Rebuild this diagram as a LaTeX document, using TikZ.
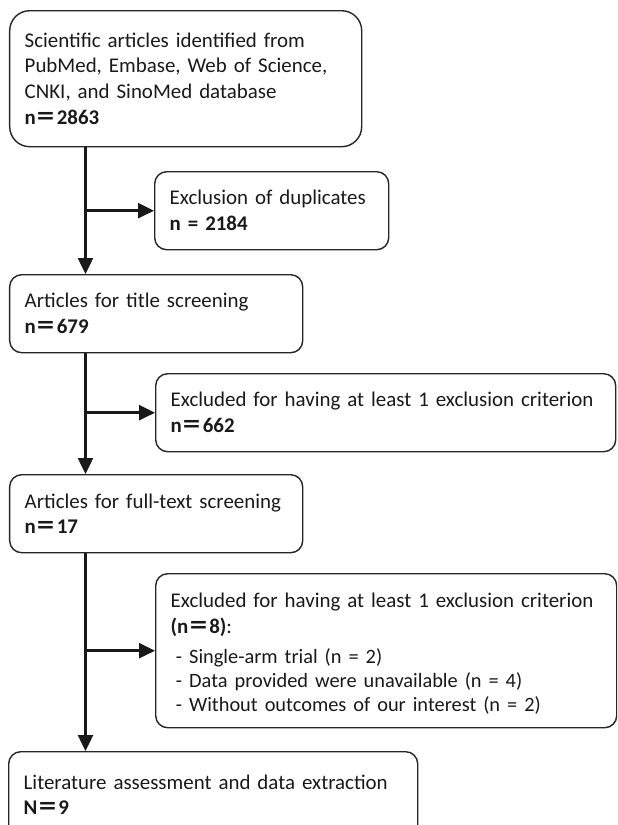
\documentclass[tikz,border=0pt]{standalone}
\usepackage{fontspec}
\setmainfont{Carlito}
\newfontfamily\cjk{Noto Sans CJK SC}
\usetikzlibrary{positioning, arrows.meta}
\newcommand{\feq}{{\cjk ＝}}

\begin{document}
\begin{tikzpicture}[
  font=\fontsize{11.9pt}{14.7pt}\selectfont,
  box/.style={draw=black!85, line width=0.8pt, rounded corners=0.24cm, anchor=north west,
    align=left, inner xsep=0.3cm, inner ysep=2pt, text=black!90},
  flow/.style={-{Triangle[length=0.32cm, width=0.3cm]}, line width=1.4pt, draw=black!90}
]
\path[use as bounding box] (0,0) rectangle (12.34,-16.5);
\clip (0,0) rectangle (12.34,-16.5);

% stages down the left side
\node[box, rounded corners=0.4cm, minimum width=7.04cm, minimum height=2.72cm, text width=6.44cm]
  (search) at (0.18,-0.20) {Scientific articles identified from\\PubMed, Embase, Web of Science,\\CNKI, and SinoMed database\\\textbf{n\feq 2863}};
\node[box, minimum width=5.86cm, minimum height=1.56cm, text width=5.26cm]
  (title) at (0.18,-5.48) {Articles for title screening\\\textbf{n\feq 679}};
\node[box, minimum width=5.86cm, minimum height=1.56cm, text width=5.26cm]
  (full) at (0.18,-9.48) {Articles for full-text screening\\\textbf{n\feq 17}};
\node[box, minimum width=8.18cm, minimum height=1.72cm, text width=7.58cm]
  (final) at (0.16,-15.02) {Literature assessment and data extraction\\\textbf{N\feq 9}};

% exclusions on the right
\node[box, minimum width=4.68cm, minimum height=1.56cm, text width=4.08cm]
  (dup) at (3.08,-3.42) {Exclusion of duplicates\\\textbf{n = 2184}};
\node[box, minimum width=9.20cm, minimum height=1.56cm, text width=8.60cm]
  (excl1) at (3.10,-7.46) {Excluded for having at least 1 exclusion criterion\\\textbf{n\feq 662}};
\node[box, minimum width=9.22cm, minimum height=3.08cm, text width=8.62cm]
  (excl2) at (3.10,-11.46) {\rule{0pt}{0.42cm}Excluded for having at least 1 exclusion criterion\\\textbf{(n\feq 8)}:\par\vspace{3pt}
  {\fontsize{11.6pt}{13.9pt}\selectfont\hspace*{3pt}- Single-arm trial (n = 2)\\
  \hspace*{3pt}- Data provided were unavailable (n = 4)\\
  \hspace*{3pt}- Without outcomes of our interest (n = 2)\par}};

% trunk and branches
\coordinate (trunk) at (1.71,0);
\draw[flow] (trunk |- search.south) -- (trunk |- title.north);
\draw[flow] (trunk |- dup.west) -- (dup.west);
\draw[flow] (trunk |- title.south) -- (trunk |- full.north);
\draw[flow] (trunk |- excl1.west) -- (excl1.west);
\draw[flow] (trunk |- full.south) -- (trunk |- final.north);
\draw[flow] (trunk |- excl2.west) -- (excl2.west);

\end{tikzpicture}
\end{document}
